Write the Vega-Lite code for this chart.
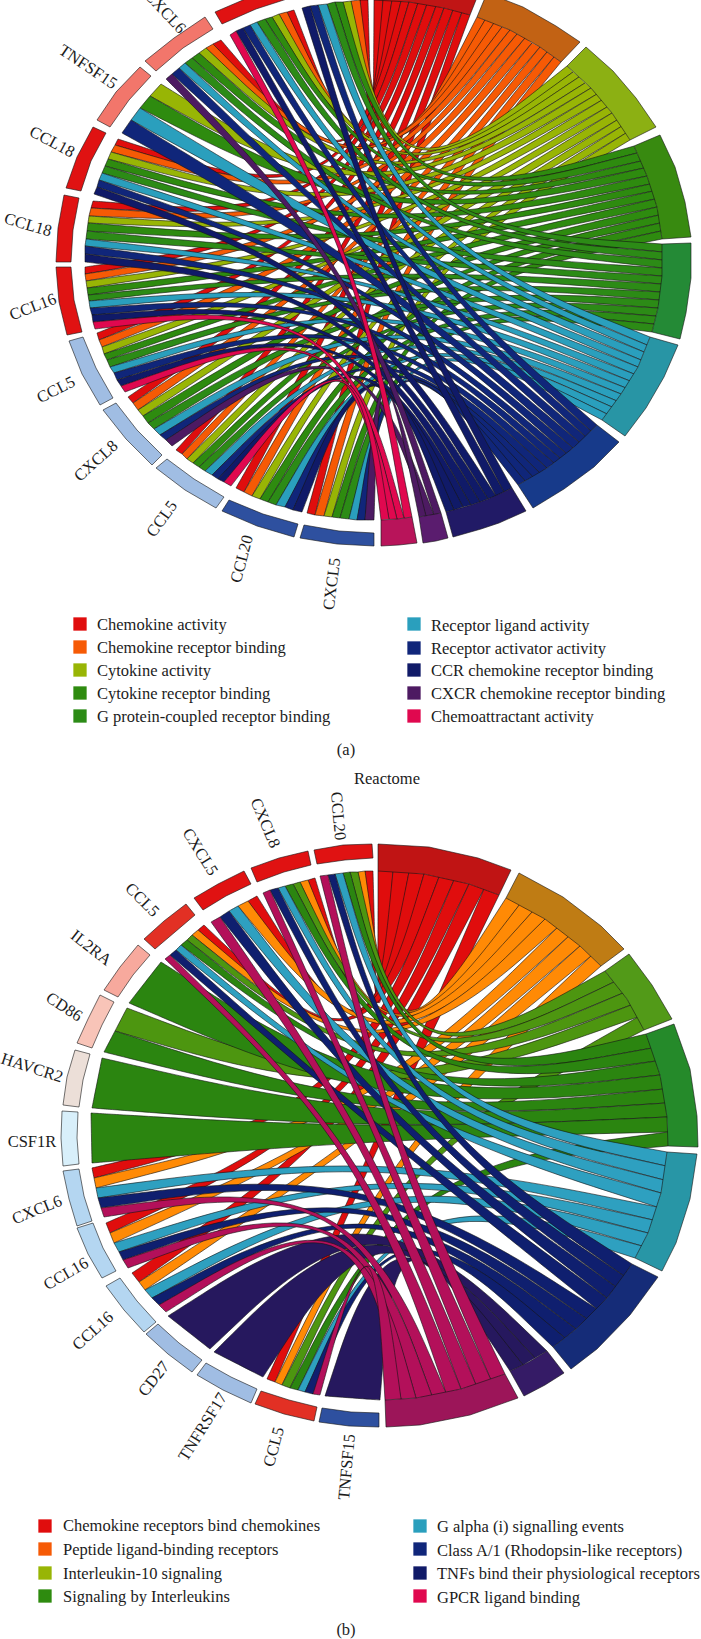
{"$schema":"https://vega.github.io/schema/vega-lite/v6.json","width":701,"height":1639,"autosize":"none","padding":0,"background":"white","config":{"view":{"stroke":null}},
"datasets":{"ribbons":[
{"id":1,"term":"a1","x":[374,373,368,368,368,360,360,360,373,383],"y":[0,195,0,0,0,0,0,0,195,0]},
{"id":2,"term":"a1","x":[383,365,294,294,294,287,287,287,365,392],"y":[0,196,10,10,10,12,12,12,197,0]},
{"id":3,"term":"a1","x":[392,357,221,221,221,213,213,213,357,401],"y":[0,200,40,40,40,44,44,44,201,1]},
{"id":4,"term":"a1","x":[401,345,118,118,118,115,115,115,346,409],"y":[1,213,139,139,139,145,145,145,214,2]},
{"id":5,"term":"a1","x":[409,343,93,93,93,91,91,91,344,418],"y":[2,220,201,201,201,208,208,208,221,3]},
{"id":6,"term":"a1","x":[418,343,85,85,85,85,85,85,344,427],"y":[3,229,267,267,267,274,274,274,230,4]},
{"id":7,"term":"a1","x":[427,346,97,97,97,99,99,99,347,436],"y":[4,237,333,333,333,340,340,340,238,6]},
{"id":8,"term":"a1","x":[436,351,128,128,128,133,133,133,353,444],"y":[6,245,397,397,397,403,403,403,246,8]},
{"id":9,"term":"a1","x":[444,358,176,176,176,182,182,182,360,453],"y":[8,252,450,450,450,454,454,454,253,10]},
{"id":10,"term":"a1","x":[453,367,236,236,236,244,244,244,369,462],"y":[10,257,488,488,488,492,492,492,258,12]},
{"id":11,"term":"a1","x":[462,377,307,307,307,315,315,315,379,470],"y":[12,261,513,513,513,515,515,515,261,15]},
{"id":12,"term":"a2","x":[477,385,360,360,360,351,351,351,385,485],"y":[17,197,0,0,0,1,1,1,198,20]},
{"id":13,"term":"a2","x":[485,377,287,287,287,279,279,279,377,494],"y":[20,199,12,12,12,14,14,14,200,23]},
{"id":14,"term":"a2","x":[494,369,213,213,213,206,206,206,369,502],"y":[23,203,44,44,44,48,48,48,204,27]},
{"id":15,"term":"a2","x":[502,358,115,115,115,111,111,111,358,510],"y":[27,216,145,145,145,152,152,152,218,30]},
{"id":16,"term":"a2","x":[510,356,91,91,91,89,89,89,356,517],"y":[30,225,208,208,208,216,216,216,226,34]},
{"id":17,"term":"a2","x":[517,356,85,85,85,86,86,86,357,525],"y":[34,233,274,274,274,281,281,281,235,38]},
{"id":18,"term":"a2","x":[525,358,99,99,99,102,102,102,360,532],"y":[38,242,340,340,340,347,347,347,244,43]},
{"id":19,"term":"a2","x":[532,364,133,133,133,138,138,138,365,540],"y":[43,251,403,403,403,410,410,410,252,47]},
{"id":20,"term":"a2","x":[540,371,182,182,182,187,187,187,372,547],"y":[47,258,454,454,454,459,459,459,259,52]},
{"id":21,"term":"a2","x":[547,379,244,244,244,252,252,252,381,554],"y":[52,263,492,492,492,496,496,496,264,57]},
{"id":22,"term":"a2","x":[554,389,315,315,315,324,324,324,391,561],"y":[57,267,515,515,515,516,516,516,268,62]},
{"id":23,"term":"a3","x":[567,395,351,351,351,343,343,343,395,573],"y":[66,203,1,1,1,2,2,2,204,72]},
{"id":24,"term":"a3","x":[573,387,279,279,279,272,272,272,387,579],"y":[72,206,14,14,14,17,17,17,207,77]},
{"id":25,"term":"a3","x":[579,379,206,206,206,199,199,199,379,585],"y":[77,211,48,48,48,53,53,53,212,83]},
{"id":26,"term":"a3","x":[585,374,161,161,161,150,150,150,373,591],"y":[83,216,84,84,84,96,96,96,218,88]},
{"id":27,"term":"a3","x":[591,368,111,111,111,108,108,108,369,597],"y":[88,225,152,152,152,159,159,159,227,94]},
{"id":28,"term":"a3","x":[597,366,89,89,89,88,88,88,367,602],"y":[94,234,216,216,216,223,223,223,235,100]},
{"id":29,"term":"a3","x":[602,367,86,86,86,87,87,87,367,607],"y":[100,243,281,281,281,288,288,288,244,107]},
{"id":30,"term":"a3","x":[607,369,102,102,102,104,104,104,370,612],"y":[107,252,347,347,347,354,354,354,253,113]},
{"id":31,"term":"a3","x":[612,374,138,138,138,143,143,143,376,617],"y":[113,260,410,410,410,416,416,416,262,120]},
{"id":32,"term":"a3","x":[617,381,187,187,187,193,193,193,382,622],"y":[120,267,459,459,459,463,463,463,269,126]},
{"id":33,"term":"a3","x":[622,390,252,252,252,260,260,260,391,626],"y":[126,273,496,496,496,499,499,499,274,133]},
{"id":34,"term":"a3","x":[626,399,324,324,324,332,332,332,401,630],"y":[133,276,516,516,516,517,517,517,277,140]},
{"id":35,"term":"a4","x":[634,403,343,343,343,335,335,335,402,637],"y":[146,213,2,2,2,2,2,2,214,153]},
{"id":36,"term":"a4","x":[637,394,272,272,272,265,265,265,394,641],"y":[153,216,17,17,17,19,19,19,217,161]},
{"id":37,"term":"a4","x":[641,386,199,199,199,192,192,192,385,644],"y":[161,222,53,53,53,58,58,58,223,168]},
{"id":38,"term":"a4","x":[644,380,150,150,150,140,140,140,379,647],"y":[168,228,96,96,96,108,108,108,230,176]},
{"id":39,"term":"a4","x":[647,375,108,108,108,105,105,105,375,650],"y":[176,237,159,159,159,166,166,166,239,184]},
{"id":40,"term":"a4","x":[650,373,88,88,88,87,87,87,373,653],"y":[184,246,223,223,223,231,231,231,248,191]},
{"id":41,"term":"a4","x":[653,373,87,87,87,88,88,88,373,655],"y":[191,255,288,288,288,295,295,295,257,199]},
{"id":42,"term":"a4","x":[655,375,104,104,104,107,107,107,376,657],"y":[199,264,354,354,354,360,360,360,266,207]},
{"id":43,"term":"a4","x":[657,380,143,143,143,148,148,148,381,659],"y":[207,273,416,416,416,423,423,423,275,215]},
{"id":44,"term":"a4","x":[659,387,193,193,193,199,199,199,388,660],"y":[215,280,463,463,463,467,467,467,281,223]},
{"id":45,"term":"a4","x":[660,396,260,260,260,268,268,268,397,661],"y":[223,285,499,499,499,502,502,502,287,231]},
{"id":46,"term":"a4","x":[661,405,332,332,332,340,340,340,406,662],"y":[231,288,517,517,517,518,518,518,290,239]},
{"id":47,"term":"a5","x":[662,405,335,335,335,327,327,327,404,663],"y":[244,226,2,2,2,4,4,4,227,252]},
{"id":48,"term":"a5","x":[663,396,265,265,265,257,257,257,395,663],"y":[252,229,19,19,19,22,22,22,230,260]},
{"id":49,"term":"a5","x":[663,387,192,192,192,185,185,185,386,663],"y":[260,235,58,58,58,63,63,63,236,268]},
{"id":50,"term":"a5","x":[663,377,105,105,105,102,102,102,376,662],"y":[268,249,166,166,166,173,173,173,251,276]},
{"id":51,"term":"a5","x":[662,374,87,87,87,86,86,86,374,662],"y":[276,258,231,231,231,239,239,239,260,284]},
{"id":52,"term":"a5","x":[662,374,88,88,88,89,89,89,374,661],"y":[284,267,295,295,295,301,301,301,269,292]},
{"id":53,"term":"a5","x":[661,377,107,107,107,110,110,110,377,660],"y":[292,277,360,360,360,367,367,367,278,300]},
{"id":54,"term":"a5","x":[660,382,148,148,148,154,154,154,382,658],"y":[300,285,423,423,423,429,429,429,287,308]},
{"id":55,"term":"a5","x":[658,388,199,199,199,205,205,205,388,656],"y":[308,292,467,467,467,471,471,471,293,316]},
{"id":56,"term":"a5","x":[656,396,268,268,268,276,276,276,397,654],"y":[316,297,502,502,502,505,505,505,299,324]},
{"id":57,"term":"a5","x":[654,405,340,340,340,349,349,349,406,652],"y":[324,300,518,518,518,519,519,519,301,332]},
{"id":58,"term":"a6","x":[650,403,327,327,327,318,318,318,401,647],"y":[337,238,4,4,4,5,5,5,239,345]},
{"id":59,"term":"a6","x":[647,394,257,257,257,250,250,250,392,644],"y":[345,241,22,22,22,25,25,25,242,352]},
{"id":60,"term":"a6","x":[644,384,185,185,185,179,179,179,383,641],"y":[352,247,63,63,63,68,68,68,248,360]},
{"id":61,"term":"a6","x":[641,378,140,140,140,131,131,131,377,638],"y":[360,253,108,108,108,120,120,120,256,367]},
{"id":62,"term":"a6","x":[638,373,102,102,102,99,99,99,372,634],"y":[367,262,173,173,173,180,180,180,264,374]},
{"id":63,"term":"a6","x":[634,370,86,86,86,85,85,85,370,630],"y":[374,272,239,239,239,246,246,246,273,381]},
{"id":64,"term":"a6","x":[630,370,89,89,89,90,90,90,370,626],"y":[381,280,301,301,301,308,308,308,282,388]},
{"id":65,"term":"a6","x":[626,372,110,110,110,114,114,114,372,621],"y":[388,289,367,367,367,373,373,373,291,394]},
{"id":66,"term":"a6","x":[621,377,154,154,154,160,160,160,378,617],"y":[394,298,429,429,429,435,435,435,300,401]},
{"id":67,"term":"a6","x":[617,383,205,205,205,212,212,212,383,612],"y":[401,304,471,471,471,475,475,475,305,407]},
{"id":68,"term":"a6","x":[612,391,276,276,276,285,285,285,392,607],"y":[407,309,505,505,505,507,507,507,310,414]},
{"id":69,"term":"a6","x":[607,400,349,349,349,357,357,357,400,602],"y":[414,312,519,519,519,520,520,520,313,420]},
{"id":70,"term":"a7","x":[597,395,318,318,318,310,310,310,393,591],"y":[425,249,5,5,5,6,6,6,250,431]},
{"id":71,"term":"a7","x":[591,386,250,250,250,243,243,243,384,586],"y":[431,252,25,25,25,28,28,28,253,437]},
{"id":72,"term":"a7","x":[586,376,179,179,179,172,172,172,375,580],"y":[437,258,68,68,68,74,74,74,260,443]},
{"id":73,"term":"a7","x":[580,369,131,131,131,122,122,122,367,573],"y":[443,265,120,120,120,133,133,133,268,448]},
{"id":74,"term":"a7","x":[573,365,99,99,99,97,97,97,364,567],"y":[448,274,180,180,180,187,187,187,275,454]},
{"id":75,"term":"a7","x":[567,362,85,85,85,85,85,85,361,561],"y":[454,283,246,246,246,254,254,254,284,459]},
{"id":76,"term":"a7","x":[561,362,90,90,90,92,92,92,361,554],"y":[459,291,308,308,308,315,315,315,292,463]},
{"id":77,"term":"a7","x":[554,364,114,114,114,117,117,117,364,547],"y":[463,300,373,373,373,380,380,380,301,468]},
{"id":78,"term":"a7","x":[547,369,160,160,160,166,166,166,368,540],"y":[468,308,435,435,435,440,440,440,309,473]},
{"id":79,"term":"a7","x":[540,375,212,212,212,218,218,218,374,533],"y":[473,314,475,475,475,479,479,479,315,477]},
{"id":80,"term":"a7","x":[533,383,285,285,285,293,293,293,383,525],"y":[477,318,507,507,507,510,510,510,319,481]},
{"id":81,"term":"a7","x":[525,391,357,357,357,365,365,365,391,518],"y":[481,320,520,520,520,520,520,520,321,485]},
{"id":82,"term":"a8","x":[512,383,310,310,310,302,302,302,381,504],"y":[488,257,6,6,6,8,8,8,258,492]},
{"id":83,"term":"a8","x":[504,374,243,243,243,236,236,236,372,496],"y":[492,260,28,28,28,31,31,31,261,496]},
{"id":84,"term":"a8","x":[496,355,97,97,97,94,94,94,353,488],"y":[496,280,187,187,187,194,194,194,282,499]},
{"id":85,"term":"a8","x":[488,352,85,85,85,85,85,85,351,480],"y":[499,289,254,254,254,262,262,262,291,502]},
{"id":86,"term":"a8","x":[480,352,92,92,92,93,93,93,351,471],"y":[502,297,315,315,315,322,322,322,298,505]},
{"id":87,"term":"a8","x":[471,354,117,117,117,121,121,121,353,463],"y":[505,306,380,380,380,386,386,386,307,507]},
{"id":88,"term":"a8","x":[463,366,218,218,218,224,224,224,365,454],"y":[507,318,479,479,479,482,482,482,319,510]},
{"id":89,"term":"a8","x":[454,374,293,293,293,302,302,302,374,446],"y":[510,322,510,510,510,512,512,512,323,512]},
{"id":90,"term":"a9","x":[441,357,172,172,172,166,166,166,355,434],"y":[513,268,74,74,74,79,79,79,269,515]},
{"id":91,"term":"a9","x":[434,355,166,166,166,172,172,172,355,426],"y":[515,314,440,440,440,446,446,446,315,516]},
{"id":92,"term":"a9","x":[426,379,365,365,365,374,374,374,380,419],"y":[516,325,520,520,520,520,520,520,325,517]},
{"id":93,"term":"a10","x":[412,362,236,236,236,230,230,230,360,404],"y":[517,264,31,31,31,35,35,35,264,518]},
{"id":94,"term":"a10","x":[404,343,93,93,93,95,95,95,342,397],"y":[518,300,322,322,322,329,329,329,301,519]},
{"id":95,"term":"a10","x":[397,345,121,121,121,125,125,125,345,389],"y":[519,308,386,386,386,392,392,392,309,519]},
{"id":96,"term":"a10","x":[389,357,224,224,224,231,231,231,357,381],"y":[519,320,482,482,482,486,486,486,321,520]},
{"id":101,"term":"b1","x":[378,378,373,373,373,365,365,365,379,393],"y":[871,1069,871,871,871,871,871,871,1069,871]},
{"id":102,"term":"b1","x":[393,373,315,315,315,308,308,308,374,409],"y":[871,1070,878,878,878,880,880,880,1071,872]},
{"id":103,"term":"b1","x":[409,368,257,257,257,248,248,248,369,424],"y":[872,1073,896,896,896,901,901,901,1074,874]},
{"id":104,"term":"b1","x":[424,363,204,204,204,198,198,198,364,439],"y":[874,1077,925,925,925,930,930,930,1078,877]},
{"id":105,"term":"b1","x":[439,351,92,92,92,94,94,94,353,454],"y":[877,1107,1168,1168,1168,1178,1178,1178,1109,880]},
{"id":106,"term":"b1","x":[454,355,106,106,106,110,110,110,357,469],"y":[880,1115,1223,1223,1223,1233,1233,1233,1116,884]},
{"id":107,"term":"b1","x":[469,360,132,132,132,139,139,139,362,484],"y":[884,1121,1273,1273,1273,1282,1282,1282,1123,889]},
{"id":108,"term":"b1","x":[484,378,267,267,267,275,275,275,381,499],"y":[889,1135,1379,1379,1379,1382,1382,1382,1136,895]},
{"id":109,"term":"b2","x":[506,394,365,365,365,358,358,358,395,520],"y":[898,1073,871,871,871,872,872,872,1074,904]},
{"id":110,"term":"b2","x":[520,388,308,308,308,300,300,300,389,533],"y":[904,1075,880,880,880,882,882,882,1076,911]},
{"id":111,"term":"b2","x":[533,382,248,248,248,238,238,238,383,545],"y":[911,1078,901,901,901,906,906,906,1080,919]},
{"id":112,"term":"b2","x":[545,378,198,198,198,192,192,192,378,558],"y":[919,1083,930,930,930,935,935,935,1084,927]},
{"id":113,"term":"b2","x":[558,366,94,94,94,96,96,96,368,569],"y":[927,1115,1178,1178,1178,1188,1188,1188,1117,936]},
{"id":114,"term":"b2","x":[569,370,110,110,110,114,114,114,371,580],"y":[936,1123,1233,1233,1233,1243,1243,1243,1125,946]},
{"id":115,"term":"b2","x":[580,375,139,139,139,145,145,145,377,591],"y":[946,1130,1282,1282,1282,1290,1290,1290,1132,956]},
{"id":116,"term":"b2","x":[591,393,275,275,275,282,282,282,395,601],"y":[956,1144,1382,1382,1382,1385,1385,1385,1146,966]},
{"id":117,"term":"b3","x":[605,405,358,358,358,350,350,350,405,614],"y":[971,1082,872,872,872,872,872,872,1083,982]},
{"id":118,"term":"b3","x":[614,399,300,300,300,293,293,293,399,623],"y":[982,1085,882,882,882,884,884,884,1086,993]},
{"id":119,"term":"b3","x":[623,387,192,192,192,187,187,187,387,631],"y":[993,1093,935,935,935,940,940,940,1095,1005]},
{"id":120,"term":"b3","x":[631,379,127,127,127,115,115,115,379,638],"y":[1005,1103,1008,1008,1008,1031,1031,1031,1108,1017]},
{"id":121,"term":"b3","x":[638,400,282,282,282,290,290,290,401,644],"y":[1017,1152,1385,1385,1385,1388,1388,1388,1154,1030]},
{"id":122,"term":"b4","x":[646,409,350,350,350,343,343,343,409,652],"y":[1034,1090,872,872,872,873,873,873,1092,1048]},
{"id":123,"term":"b4","x":[652,403,293,293,293,285,285,285,402,656],"y":[1048,1093,884,884,884,886,886,886,1095,1061]},
{"id":124,"term":"b4","x":[656,390,187,187,187,181,181,181,390,660],"y":[1061,1102,940,940,940,945,945,945,1104,1075]},
{"id":125,"term":"b4","x":[660,387,161,161,161,129,129,129,384,664],"y":[1075,1106,962,962,962,1003,1003,1003,1113,1089]},
{"id":126,"term":"b4","x":[664,382,115,115,115,104,104,104,381,666],"y":[1089,1117,1031,1031,1031,1052,1052,1052,1121,1103]},
{"id":127,"term":"b4","x":[666,381,102,102,102,92,92,92,380,667],"y":[1103,1122,1058,1058,1058,1108,1108,1108,1130,1117]},
{"id":128,"term":"b4","x":[667,379,91,91,91,92,92,92,380,668],"y":[1117,1130,1113,1113,1113,1163,1163,1163,1139,1132]},
{"id":129,"term":"b4","x":[668,404,290,290,290,298,298,298,405,668],"y":[1132,1167,1388,1388,1388,1390,1390,1390,1169,1146]},
{"id":130,"term":"b5","x":[667,411,343,343,343,335,335,335,410,666],"y":[1152,1105,873,873,873,874,874,874,1107,1166]},
{"id":131,"term":"b5","x":[666,404,285,285,285,278,278,278,402,664],"y":[1166,1108,886,886,886,888,888,888,1110,1180]},
{"id":132,"term":"b5","x":[664,398,238,238,238,229,229,229,396,661],"y":[1180,1112,906,906,906,911,911,911,1115,1193]},
{"id":133,"term":"b5","x":[661,390,181,181,181,176,176,176,389,657],"y":[1193,1119,945,945,945,950,950,950,1121,1207]},
{"id":134,"term":"b5","x":[657,379,96,96,96,98,98,98,378,653],"y":[1207,1151,1188,1188,1188,1198,1198,1198,1154,1220]},
{"id":135,"term":"b5","x":[653,381,114,114,114,119,119,119,381,648],"y":[1220,1160,1243,1243,1243,1252,1252,1252,1162,1233]},
{"id":136,"term":"b5","x":[648,384,145,145,145,152,152,152,384,642],"y":[1233,1167,1290,1290,1290,1298,1298,1298,1170,1246]},
{"id":137,"term":"b5","x":[642,402,298,298,298,305,305,305,402,635],"y":[1246,1181,1390,1390,1390,1392,1392,1392,1183,1258]},
{"id":138,"term":"b6","x":[632,406,335,335,335,328,328,328,404,624],"y":[1264,1119,874,874,874,875,875,875,1120,1276]},
{"id":139,"term":"b6","x":[624,397,278,278,278,270,270,270,395,616],"y":[1276,1122,888,888,888,890,890,890,1124,1287]},
{"id":140,"term":"b6","x":[616,390,229,229,229,220,220,220,388,607],"y":[1287,1126,911,911,911,917,917,917,1128,1298]},
{"id":141,"term":"b6","x":[607,382,176,176,176,170,170,170,380,597],"y":[1298,1133,950,950,950,955,955,955,1135,1309]},
{"id":142,"term":"b6","x":[597,371,98,98,98,101,101,101,371,587],"y":[1309,1165,1198,1198,1198,1208,1208,1208,1168,1319]},
{"id":143,"term":"b6","x":[587,373,119,119,119,123,123,123,372,576],"y":[1319,1173,1252,1252,1252,1260,1260,1260,1175,1329]},
{"id":144,"term":"b6","x":[576,376,152,152,152,159,159,159,375,565],"y":[1329,1180,1298,1298,1298,1305,1305,1305,1182,1338]},
{"id":145,"term":"b6","x":[565,393,305,305,305,313,313,313,393,553],"y":[1338,1193,1392,1392,1392,1394,1394,1394,1194,1347]},
{"id":146,"term":"b7","x":[547,374,168,168,168,210,210,210,378,535],"y":[1351,1185,1316,1316,1316,1349,1349,1349,1190,1358]},
{"id":147,"term":"b7","x":[535,378,214,214,214,263,263,263,383,523],"y":[1358,1190,1352,1352,1352,1377,1377,1377,1194,1365]},
{"id":148,"term":"b7","x":[523,391,325,325,325,380,380,380,396,510],"y":[1365,1197,1396,1396,1396,1400,1400,1400,1198,1371]},
{"id":149,"term":"b8","x":[505,389,328,328,328,320,320,320,386,491],"y":[1374,1133,875,875,875,876,876,876,1134,1380]},
{"id":150,"term":"b8","x":[491,380,270,270,270,263,263,263,377,476],"y":[1380,1135,890,890,890,893,893,893,1136,1385]},
{"id":151,"term":"b8","x":[476,372,220,220,220,211,211,211,369,461],"y":[1385,1139,917,917,917,922,922,922,1141,1389]},
{"id":152,"term":"b8","x":[461,364,170,170,170,165,165,165,361,446],"y":[1389,1145,955,955,955,959,959,959,1146,1393]},
{"id":153,"term":"b8","x":[446,353,101,101,101,104,104,104,352,432],"y":[1393,1177,1208,1208,1208,1217,1217,1217,1178,1396]},
{"id":154,"term":"b8","x":[432,354,123,123,123,128,128,128,353,416],"y":[1396,1184,1260,1260,1260,1268,1268,1268,1185,1398]},
{"id":155,"term":"b8","x":[416,357,159,159,159,166,166,166,355,401],"y":[1398,1190,1305,1305,1305,1312,1312,1312,1191,1399]},
{"id":156,"term":"b8","x":[401,374,313,313,313,320,320,320,373,385],"y":[1399,1201,1394,1394,1394,1395,1395,1395,1201,1400]}
],
"rings":[
{"id":201,"term":"ra1","x":[374,409,444,470,480,452,413,374,374],"y":[0,2,8,15,-10,-17,-24,-26,0]},
{"id":202,"term":"ra2","x":[477,510,540,561,580,556,523,487,477],"y":[17,30,47,62,42,26,7,-7,17]},
{"id":203,"term":"ra3","x":[567,591,612,630,656,636,613,586,567],"y":[66,88,113,140,127,98,71,47,66]},
{"id":204,"term":"ra4","x":[634,647,657,662,691,685,675,660,634],"y":[146,176,207,239,237,202,167,135,146]},
{"id":205,"term":"ra5","x":[662,662,658,652,680,686,691,691,662],"y":[244,276,308,332,339,313,278,243,244]},
{"id":206,"term":"ra6","x":[650,638,621,602,625,646,664,678,650],"y":[337,367,394,420,436,408,377,345,337]},
{"id":207,"term":"ra7","x":[597,573,547,518,533,564,594,619,597],"y":[425,448,468,485,508,489,467,442,425]},
{"id":208,"term":"ra8","x":[512,488,471,446,453,481,499,526,512],"y":[488,499,505,512,537,529,523,511,488]},
{"id":209,"term":"ra9","x":[441,430,419,423,436,448,441],"y":[513,515,517,543,541,538,513]},
{"id":210,"term":"ra10","x":[412,397,381,381,399,417,412],"y":[517,519,520,546,545,543,517]},
{"id":211,"term":"fc10","x":[374,339,304,300,337,374,374],"y":[533,531,525,538,544,546,533]},
{"id":212,"term":"fc10","x":[298,263,229,222,257,294,298],"y":[524,514,500,511,526,537,524]},
{"id":213,"term":"fc9","x":[224,194,167,156,185,216,224],"y":[497,479,459,468,490,508,497]},
{"id":214,"term":"fc9","x":[162,137,116,103,126,152,162],"y":[455,430,403,410,439,465,455]},
{"id":215,"term":"fc9","x":[113,96,83,69,82,100,113],"y":[398,368,337,341,374,405,398]},
{"id":216,"term":"fc1","x":[82,74,71,56,59,67,82],"y":[332,300,267,267,302,335,332]},
{"id":217,"term":"fc1","x":[71,73,79,64,58,56,71],"y":[262,230,198,195,228,262,262]},
{"id":218,"term":"fc1","x":[81,91,106,93,77,66,81],"y":[191,161,133,127,157,188,191]},
{"id":219,"term":"fc3","x":[110,129,151,140,116,97,110],"y":[127,100,76,67,92,120,127]},
{"id":220,"term":"fc3","x":[156,183,213,205,174,145,156],"y":[71,48,29,17,38,61,71]},
{"id":221,"term":"fc1","x":[222,256,290,286,250,215,222],"y":[24,9,-2,-15,-3,12,24]},
{"id":231,"term":"rb1","x":[378,424,469,499,511,478,429,378,378],"y":[871,874,884,895,870,858,847,844,871]},
{"id":232,"term":"rb2","x":[506,545,580,601,624,601,563,519,506],"y":[898,919,946,966,949,926,897,873,898]},
{"id":233,"term":"rb3","x":[605,627,644,672,652,629,605],"y":[971,999,1030,1019,985,954,971]},
{"id":234,"term":"rb4","x":[646,660,667,668,698,697,690,674,646],"y":[1034,1075,1117,1146,1147,1116,1069,1024,1034]},
{"id":235,"term":"rb5","x":[667,661,648,635,662,676,690,697,667],"y":[1152,1193,1233,1258,1271,1243,1199,1154,1152]},
{"id":236,"term":"rb6","x":[632,607,576,553,571,597,630,658,632],"y":[1264,1298,1329,1347,1369,1349,1315,1277,1264]},
{"id":237,"term":"rb7","x":[547,529,510,524,545,564,547],"y":[1351,1362,1371,1396,1385,1373,1351]},
{"id":238,"term":"rb8","x":[505,461,416,385,386,420,470,518,505],"y":[1374,1389,1398,1400,1427,1425,1415,1398,1374]},
{"id":241,"term":"fc10","x":[379,351,322,319,349,379,379],"y":[1413,1412,1408,1422,1426,1427,1413]},
{"id":242,"term":"fc2","x":[317,289,261,255,284,314,317],"y":[1407,1400,1391,1404,1414,1421,1407]},
{"id":243,"term":"fc9","x":[257,231,206,197,223,251,257],"y":[1389,1377,1363,1375,1390,1403,1389]},
{"id":244,"term":"fc9","x":[202,179,158,146,168,192,202],"y":[1360,1343,1324,1334,1354,1372,1360]},
{"id":245,"term":"fc8","x":[156,137,120,106,124,144,156],"y":[1322,1301,1278,1286,1310,1332,1322]},
{"id":246,"term":"fc8","x":[116,103,93,77,88,102,116],"y":[1271,1248,1223,1228,1254,1278,1271]},
{"id":247,"term":"fc8","x":[92,84,79,63,69,77,92],"y":[1221,1196,1169,1171,1199,1226,1221]},
{"id":248,"term":"fc7","x":[79,77,78,62,61,63,79],"y":[1164,1138,1112,1111,1138,1166,1164]},
{"id":249,"term":"fc6","x":[79,83,90,75,67,63,79],"y":[1107,1080,1054,1050,1077,1105,1107]},
{"id":250,"term":"fc5","x":[92,102,114,100,88,77,92],"y":[1048,1025,1002,995,1019,1043,1048]},
{"id":251,"term":"fc4","x":[118,133,150,138,120,104,118],"y":[997,975,955,945,967,990,997]},
{"id":252,"term":"fc2","x":[155,175,195,186,164,144,155],"y":[949,932,915,904,921,939,949]},
{"id":253,"term":"fc1","x":[203,226,251,244,218,194,203],"y":[910,896,884,871,884,898,910]},
{"id":254,"term":"fc1","x":[257,284,311,308,279,251,257],"y":[882,872,865,851,858,868,882]},
{"id":255,"term":"fc1","x":[317,345,373,372,343,314,317],"y":[864,860,858,844,845,850,864]}
],
"labels":[
{"text":"CXCL5","x":332,"y":584,"angle":277},{"text":"CCL20","x":242,"y":559,"angle":285},{"text":"CCL5","x":162,"y":519,"angle":306},{"text":"CXCL8","x":96,"y":461,"angle":318},{"text":"CCL5","x":56,"y":390,"angle":333},{"text":"CCL16","x":33,"y":307,"angle":339},{"text":"CCL18","x":28,"y":225,"angle":16},{"text":"CCL18","x":52,"y":142,"angle":28},{"text":"TNFSF15","x":88,"y":67,"angle":34},{"text":"CXCL6","x":165,"y":12,"angle":47},
{"text":"(a)","x":346,"y":750,"angle":0},{"text":"Reactome","x":387,"y":779,"angle":0},{"text":"(b)","x":346,"y":1630,"angle":0},
{"text":"CCL20","x":338,"y":816,"angle":85},{"text":"CXCL8","x":265,"y":823,"angle":67},{"text":"CXCL5","x":200,"y":852,"angle":58},{"text":"CCL5","x":142,"y":900,"angle":45},{"text":"IL2RA","x":91,"y":948,"angle":38},{"text":"CD86","x":64,"y":1007,"angle":33},{"text":"HAVCR2","x":32,"y":1068,"angle":18},{"text":"CSF1R","x":32,"y":1142,"angle":0},{"text":"CXCL6","x":37,"y":1210,"angle":338},{"text":"CCL16","x":66,"y":1274,"angle":330},{"text":"CCL16","x":93,"y":1331,"angle":318},{"text":"CD27","x":154,"y":1379,"angle":308},{"text":"TNFRSF17","x":203,"y":1427,"angle":302},{"text":"CCL5","x":274,"y":1447,"angle":285},{"text":"TNFSF15","x":347,"y":1467,"angle":275}
],
"legend":[
{"text":"Chemokine activity","term":"a1","sx":80,"sy":624,"tx":97,"ty":625},
{"text":"Chemokine receptor binding","term":"a2","sx":80,"sy":647,"tx":97,"ty":648},
{"text":"Cytokine activity","term":"a3","sx":80,"sy":670,"tx":97,"ty":671},
{"text":"Cytokine receptor binding","term":"a4","sx":80,"sy":693,"tx":97,"ty":694},
{"text":"G protein-coupled receptor binding","term":"a5","sx":80,"sy":716,"tx":97,"ty":717},
{"text":"Receptor ligand activity","term":"a6","sx":414,"sy":624,"tx":431,"ty":626},
{"text":"Receptor activator activity","term":"a7","sx":414,"sy":648,"tx":431,"ty":649},
{"text":"CCR chemokine receptor binding","term":"a8","sx":414,"sy":670,"tx":431,"ty":671},
{"text":"CXCR chemokine receptor binding","term":"a9","sx":414,"sy":693,"tx":431,"ty":694},
{"text":"Chemoattractant activity","term":"a10","sx":414,"sy":716,"tx":431,"ty":717},
{"text":"Chemokine receptors bind chemokines","term":"a1","sx":45,"sy":1526,"tx":63,"ty":1526},
{"text":"Peptide ligand-binding receptors","term":"a2","sx":45,"sy":1549,"tx":63,"ty":1550},
{"text":"Interleukin-10 signaling","term":"a3","sx":45,"sy":1573,"tx":63,"ty":1574},
{"text":"Signaling by Interleukins","term":"a4","sx":45,"sy":1596,"tx":63,"ty":1597},
{"text":"G alpha (i) signalling events","term":"a6","sx":420,"sy":1526,"tx":437,"ty":1527},
{"text":"Class A/1 (Rhodopsin-like receptors)","term":"a7","sx":420,"sy":1549,"tx":437,"ty":1551},
{"text":"TNFs bind their physiological receptors","term":"a8","sx":420,"sy":1573,"tx":437,"ty":1574},
{"text":"GPCR ligand binding","term":"a10","sx":420,"sy":1596,"tx":437,"ty":1598}
]},
"layer":[
{"data":{"name":"ribbons"},"transform":[{"flatten":["x","y"]},{"window":[{"op":"row_number","as":"o"}],"groupby":["id"]}],
"mark":{"type":"line","interpolate":"basis","strokeWidth":0.6},
"encoding":{"x":{"field":"x","type":"quantitative","axis":null,"scale":{"domain":[0,701],"nice":false,"zero":false}},"y":{"field":"y","type":"quantitative","axis":null,"scale":{"domain":[0,1639],"reverse":true,"nice":false,"zero":false}},"detail":{"field":"id"},"order":{"field":"o","type":"quantitative"},"stroke":{"value":"#141414"},"fill":{"field":"term","type":"nominal","legend":null,"scale":{"domain":["a1","a2","a3","a4","a5","a6","a7","a8","a9","a10","b1","b2","b3","b4","b5","b6","b7","b8","ra1","ra2","ra3","ra4","ra5","ra6","ra7","ra8","ra9","ra10","rb1","rb2","rb3","rb4","rb5","rb6","rb7","rb8","fc1","fc2","fc3","fc4","fc5","fc6","fc7","fc8","fc9","fc10"],"range":["#e00d0d","#f65a05","#98b505","#2e8b0f","#2c8b16","#2a9fbd","#10267a","#101a68","#4d1a62","#e0084f","#e00d0d","#ff8a05","#4d9610","#2b8510","#2ea0c0","#0f1f6f","#26185e","#b3105a","#c01515","#c26214","#8cb013","#388a10","#248a36","#2895a5","#173a8a","#211a66","#5a1c6e","#b8145a","#c01414","#bf7c14","#529a18","#258a2a","#2896a6","#152c78","#351b66","#9c1559","#e01212","#e23024","#f2766b","#f7a99d","#f8c4b8","#ecdfd8","#d8effa","#b4d6f1","#a0bde3","#2e509f"]}}}},
{"data":{"name":"rings"},"transform":[{"flatten":["x","y"]},{"window":[{"op":"row_number","as":"o"}],"groupby":["id"]}],
"mark":{"type":"line","interpolate":"linear","strokeWidth":0.6},
"encoding":{"x":{"field":"x","type":"quantitative"},"y":{"field":"y","type":"quantitative"},"detail":{"field":"id"},"order":{"field":"o","type":"quantitative"},"stroke":{"value":"#141414"},"fill":{"field":"term","type":"nominal","legend":null}}},
{"data":{"name":"legend"},"mark":{"type":"square","size":177,"opacity":1},"encoding":{"x":{"field":"sx","type":"quantitative"},"y":{"field":"sy","type":"quantitative"},"fill":{"field":"term","type":"nominal","legend":null},"stroke":{"value":"#ffffff00"}}},
{"data":{"name":"legend"},"mark":{"type":"text","align":"left","baseline":"middle","font":"Liberation Serif","fontSize":16.5,"color":"#1c1c1c"},"encoding":{"x":{"field":"tx","type":"quantitative"},"y":{"field":"ty","type":"quantitative"},"text":{"field":"text"}}},
{"data":{"name":"labels"},"mark":{"type":"text","align":"center","baseline":"middle","font":"Liberation Serif","fontSize":16.5,"color":"#1c1c1c"},"encoding":{"x":{"field":"x","type":"quantitative"},"y":{"field":"y","type":"quantitative"},"text":{"field":"text"},"angle":{"field":"angle","type":"quantitative","scale":null}}}
]}
